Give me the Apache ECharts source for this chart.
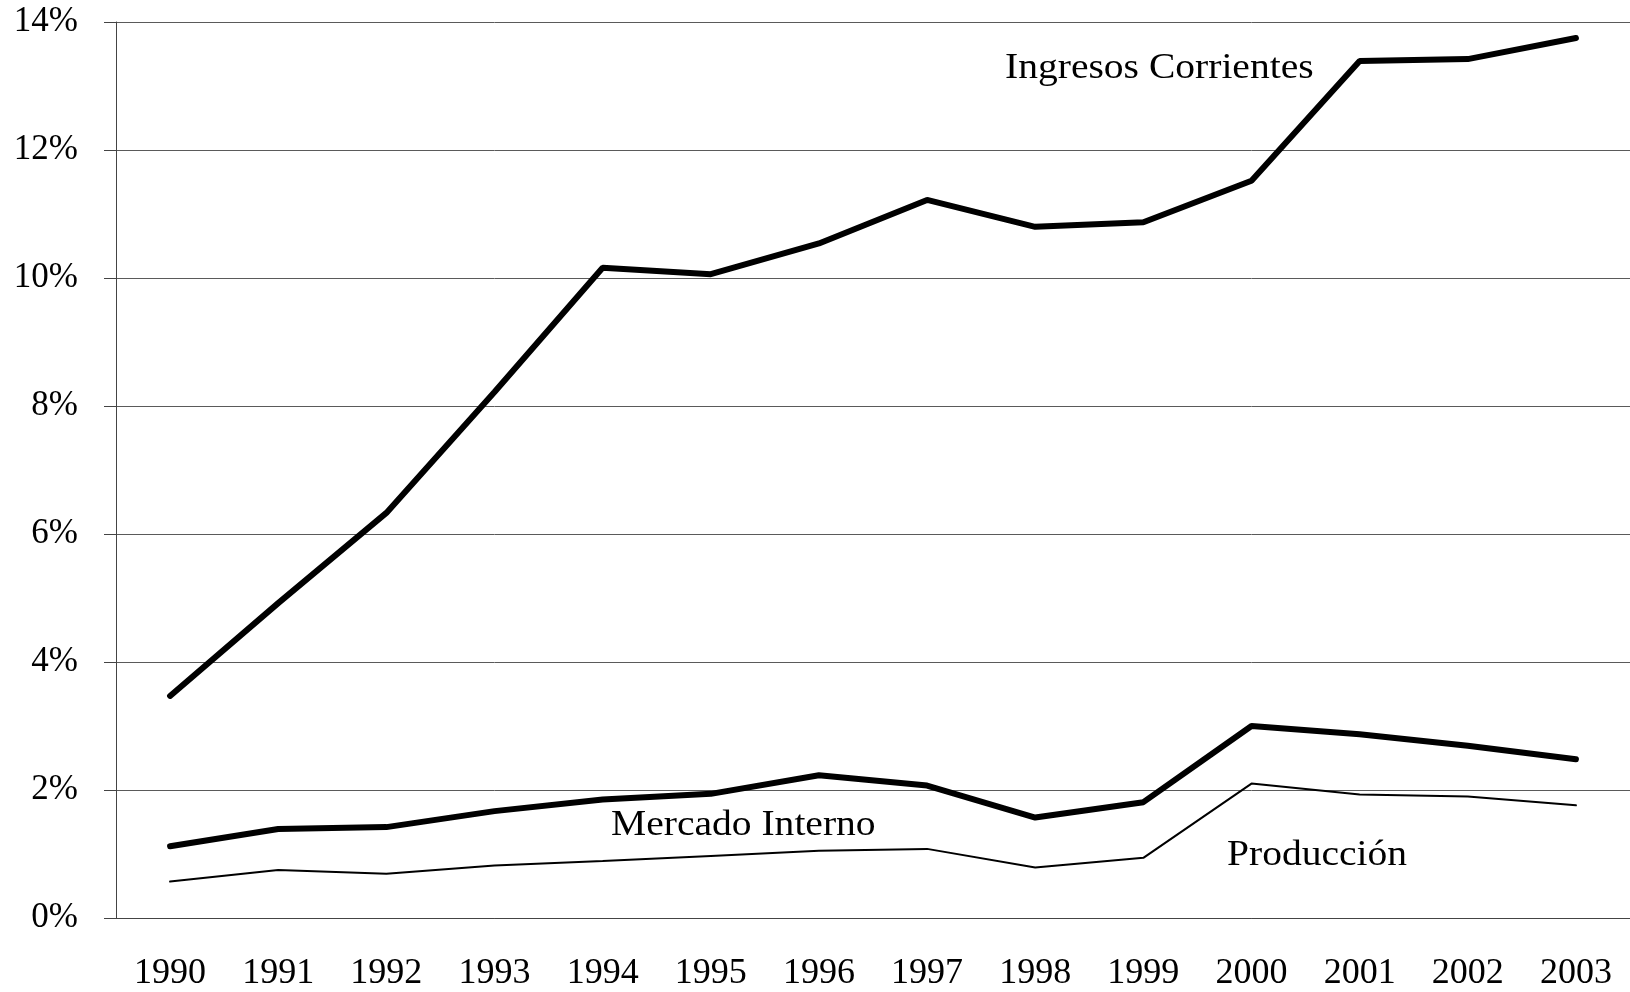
<!DOCTYPE html>
<html>
<head>
<meta charset="utf-8">
<title>Ingresos Corrientes, Mercado Interno y Producción</title>
<script src="https://cdn.jsdelivr.net/npm/echarts@6/dist/echarts.min.js"></script>
<style>
  html, body { margin: 0; padding: 0; background: #fff; }
  #chart { width: 1630px; height: 992px; }
</style>
</head>
<body>
<div id="chart"></div>
<script>
// datos (% )
const years = ['1990', '1991', '1992', '1993', '1994', '1995', '1996', '1997', '1998', '1999', '2000', '2001', '2002', '2003']
const ingresosCorrientes = [3.47, 4.92, 6.33, 8.22, 10.16, 10.06, 10.54, 11.22, 10.80, 10.87, 11.52, 13.39, 13.42, 13.75]
const mercadoInterno = [1.12, 1.39, 1.42, 1.67, 1.85, 1.94, 2.23, 2.07, 1.57, 1.81, 3.00, 2.87, 2.69, 2.48]
const produccion = [0.57, 0.75, 0.69, 0.82, 0.89, 0.97, 1.05, 1.08, 0.79, 0.94, 2.10, 1.93, 1.90, 1.76]
const yTicks = [0, 2, 4, 6, 8, 10, 12, 14]

const serif = 'Liberation Serif'
const myChart = echarts.init(document.getElementById('chart'), null, { renderer: 'canvas' })

const lineSeries = (name, data, width) => ({
  name,
  type: 'line',
  data,
  symbol: 'none',
  silent: true,
  lineStyle: { color: '#000', width, cap: 'round' },
  animation: false
})

// etiquetas dentro del grafico
const note = (text, x, y) => ({
  type: 'text',
  x,
  y,
  scaleX: 1.13,
  style: {
    text,
    font: '35px "' + serif + '"',
    fill: '#000',
    verticalAlign: 'middle'
  }
})

myChart.setOption({
  backgroundColor: '#fff',
  animation: false,
  grid: {
    left: 116,
    top: 22,
    width: 1524,
    height: 897
  },
  xAxis: {
    type: 'category',
    data: years,
    boundaryGap: true,
    axisLine: { lineStyle: { color: '#444', width: 1 } },
    axisTick: { length: 12, lineStyle: { color: '#444' } },
    axisLabel: { color: '#000', fontFamily: serif, fontSize: 36, margin: 38 },
    splitLine: { show: false }
  },
  yAxis: {
    type: 'value',
    min: yTicks[0],
    max: yTicks[yTicks.length - 1],
    interval: 2,
    axisLine: { show: true, lineStyle: { color: '#444', width: 1 } },
    axisTick: { show: true, length: 12, lineStyle: { color: '#444' } },
    axisLabel: {
      color: '#000',
      fontFamily: serif,
      fontSize: 35,
      margin: 38,
      formatter: '{value}%'
    },
    splitLine: { show: true, lineStyle: { color: '#5a5a5a', width: 1 } }
  },
  series: [
    lineSeries('Ingresos Corrientes', ingresosCorrientes, 6),
    lineSeries('Mercado Interno', mercadoInterno, 6),
    lineSeries('Producción', produccion, 2)
  ],
  graphic: [
    note('Ingresos Corrientes', 1005, 69),
    note('Mercado Interno', 611, 826),
    note('Producción', 1227, 856)
  ]
})
</script>
</body>
</html>
